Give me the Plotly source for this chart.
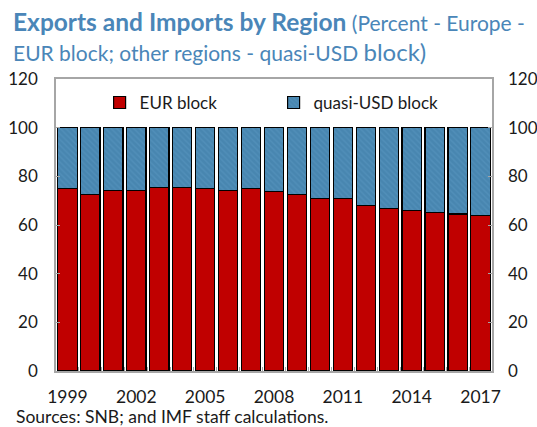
import plotly.graph_objects as go

years = [str(y) for y in range(1999, 2018)]
eur_block = [74.9, 72.7, 74.3, 74.3, 75.4, 75.4, 74.9, 74.3, 74.9, 73.8,
             72.7, 70.9, 70.9, 67.9, 66.8, 66.1, 65.0, 64.5, 63.9]
usd_block = [round(100 - v, 1) for v in eur_block]
label_years = ["1999", "2002", "2005", "2008", "2011", "2014", "2017"]
y_ticks = [0, 20, 40, 60, 80, 100, 120]

FONT = "Lato"
TITLE_COLOR = "#4A86B8"
FRAME = "#A6A6A6"

fig = go.Figure()
fig.add_trace(go.Bar(
    x=years, y=eur_block, name="EUR block",
    marker=dict(color="#C00000", line=dict(color="#000000", width=1.2)),
))
fig.add_trace(go.Bar(
    x=years, y=usd_block, name="quasi-USD block",
    marker=dict(color="#4886B0", line=dict(color="#000000", width=1.2),
                pattern=dict(shape="\\", fgcolor="#5A98C2", size=4, solidity=0.35)),
))
# invisible helper trace so that the right-hand axis is drawn
fig.add_trace(go.Scatter(
    x=[years[0]], y=[0], yaxis="y2", mode="lines", line=dict(width=0),
    showlegend=False, hoverinfo="skip",
))

ticktext = [y if y in label_years else "" for y in years]

fig.update_layout(
    width=537, height=427,
    barmode="stack", bargap=0.16,
    paper_bgcolor="white", plot_bgcolor="white",
    margin=dict(l=56, r=45, t=79, b=56),
    font=dict(family=FONT, size=17, color="#1a1a1a"),
    showlegend=True,
    legend=dict(orientation="h", x=0.1, y=0.918, xanchor="left", yanchor="middle",
                font=dict(size=17), entrywidth=129, bgcolor="rgba(0,0,0,0)",
                traceorder="normal"),
    xaxis=dict(type="category", tickvals=years, ticktext=ticktext,
               range=[-0.5, len(years) - 0.5],
               ticks="inside", tickson="boundaries", ticklen=4, tickcolor=FRAME,
               showline=True, linecolor=FRAME, linewidth=1.5, mirror=True,
               showgrid=False, tickangle=0, tickfont=dict(size=17.5),
               ticklabelstandoff=9, automargin=False),
    yaxis=dict(range=[0, 120], tickvals=y_ticks, ticks="inside", ticklen=4,
               tickcolor=FRAME, showline=True, linecolor=FRAME, linewidth=1.5,
               mirror=True, showgrid=False, zeroline=False, tickfont=dict(size=17),
               ticklabelstandoff=13, automargin=False),
    yaxis2=dict(range=[0, 120], tickvals=y_ticks, overlaying="y", side="right",
                ticks="inside", ticklen=4, tickcolor=FRAME, showline=False,
                showgrid=False, zeroline=False, tickfont=dict(size=17),
                ticklabelstandoff=15, automargin=False),
)

fig.add_annotation(
    xref="paper", yref="paper", x=-0.103, y=1.197, xanchor="left", yanchor="middle",
    text="<b>Exports and Imports by Region</b><span style='font-size:21px'> (Percent - Europe -</span>",
    showarrow=False, font=dict(family=FONT, size=24.5, color=TITLE_COLOR),
)
fig.add_annotation(
    xref="paper", yref="paper", x=-0.097, y=-0.156, xanchor="left", yanchor="middle",
    text="Sources: SNB; and IMF staff calculations.",
    showarrow=False, font=dict(family=FONT, size=17.5, color="#1a1a1a"),
)
fig.add_annotation(
    xref="paper", yref="paper", x=-0.103, y=1.094, xanchor="left", yanchor="middle",
    text="EUR block; other regions - quasi-USD <span style='font-size:24px'>block)</span>",
    showarrow=False, font=dict(family=FONT, size=21, color=TITLE_COLOR),
)

fig.write_html("out.html", config={"displayModeBar": False},
               post_script="document.body.style.margin='0';")
